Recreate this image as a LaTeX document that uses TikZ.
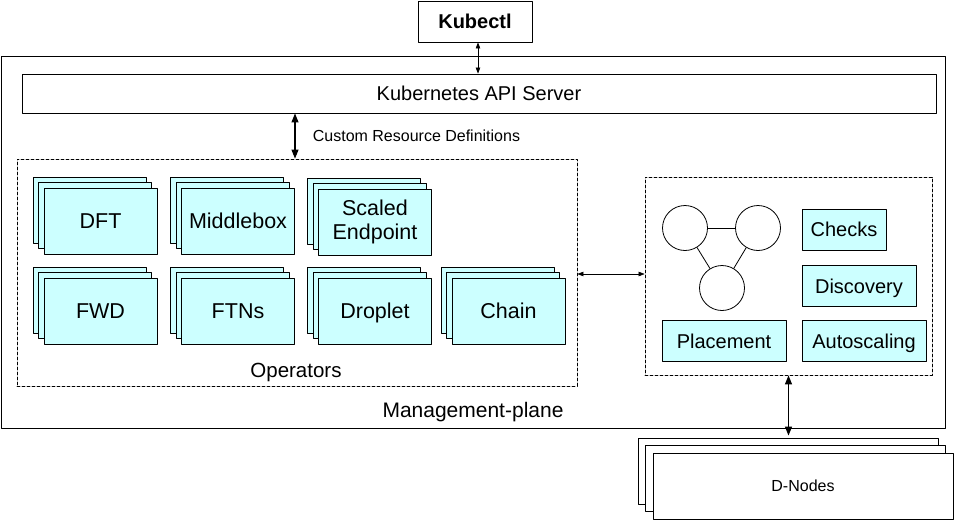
\documentclass[tikz,border=0pt]{standalone}
\usepackage{fontspec}
\setmainfont{Liberation Sans}
\usetikzlibrary{arrows.meta}
\usetikzlibrary{shadows}
\definecolor{opcyan}{RGB}{204,255,255}
\newcommand{\labfont}{\fontsize{20}{23}\selectfont}
\newcommand{\boxfont}{\fontsize{21.5}{23}\selectfont}

\tikzset{
  opstack/.style={draw, fill=opcyan, line width=0.9pt, minimum width=113pt, minimum height=66pt,
    inner sep=0pt, align=center, font=\boxfont,
    double copy shadow={shadow xshift=-5.5pt, shadow yshift=5.5pt, fill=opcyan, draw=black, line width=0.9pt}},
  opbox/.style={opstack, text height=15.4pt, text depth=0pt},
  ctlbox/.style={draw, fill=opcyan, line width=0.9pt, minimum height=41pt, inner sep=0pt,
    font=\labfont, text height=14.3pt, text depth=0pt},
  dashbox/.style={draw, line width=0.8pt, dash pattern=on 3pt off 2pt, inner sep=0pt},
  plainbox/.style={draw, line width=0.9pt, inner sep=0pt},
  member/.style={draw, circle, line width=0.8pt, minimum size=45pt, inner sep=0pt},
  smallarrow/.style={line width=0.6pt, {Triangle[length=6pt,width=4.5pt]}-{Triangle[length=6pt,width=4.5pt]}},
  bigarrow/.style={line width=1.1pt, {Triangle[length=9pt,width=7pt]}-{Triangle[length=9pt,width=7pt]}}
}

\begin{document}
\begin{tikzpicture}[line cap=round,line join=round,x=1pt,y=-1pt]
	\useasboundingbox (0,0) rectangle (954,520);

	%management-plane
	\node[plainbox, minimum width=944pt, minimum height=372pt] (mp) at (473,242) {};
	\node[font=\fontsize{21}{24}\selectfont] (mplab) at (473,412) {Management-plane};

	%kubectl ja api server
	\node[plainbox, minimum width=114pt, minimum height=41pt, font=\bfseries\labfont] (kub) at (475,21.5) {Kubectl};
	\node[plainbox, minimum width=914pt, minimum height=39pt, font=\labfont] (api) at (479,93.5) {Kubernetes API Server};

	%operators
	\node[dashbox, minimum width=560pt, minimum height=227pt] (ops) at (297,272.5) {};
	\node[font=\fontsize{20.5}{23}\selectfont] (opslab) at (296,372) {Operators};

	\node[opbox] (dft) at (100.5,221) {DFT};
	\node[opbox] (mbox) at (238,221) {Middlebox};
	\node[opstack] (scaled) at (375,222) {Scaled\\[1.5pt]Endpoint};
	\node[opbox] (fwd) at (100.5,311) {FWD};
	\node[opbox] (ftns) at (238,311) {FTNs};
	\node[opbox] (droplet) at (375,311) {Droplet};
	\node[opbox] (chain) at (508.5,311) {Chain};

	%ohjaus
	\node[dashbox, minimum width=287pt, minimum height=198pt] (ctl) at (788.5,276) {};

	\node[member] (m1) at (685,228) {};
	\node[member] (m2) at (758,228) {};
	\node[member] (m3) at (722,288) {};
	\draw[line width=0.8pt] (m1) -- (m2);
	\draw[line width=0.8pt] (m1) -- (m3);
	\draw[line width=0.8pt] (m2) -- (m3);

	\node[ctlbox, minimum width=84pt] (checks) at (844,229.5) {Checks};
	\node[ctlbox, minimum width=114pt] (disc) at (859,286) {Discovery};
	\node[ctlbox, minimum width=124pt] (place) at (724,341) {Placement};
	\node[ctlbox, minimum width=124pt] (autosc) at (864,341) {Autoscaling};

	%d-nodes
	\node[plainbox, fill=white, minimum width=300pt, minimum height=66pt, font=\fontsize{16}{19}\selectfont,
		double copy shadow={shadow xshift=-7.5pt, shadow yshift=7.5pt, fill=white, draw=black, line width=0.9pt}] (dn) at (803,486) {D-Nodes};

	%nuolet
	\coordinate (crdx) at (295,0);
	\coordinate (midy) at (0,274);
	\draw[smallarrow] (kub.south -| 478,0) -- (api.north -| 478,0);
	\draw[bigarrow] (api.south -| crdx) -- (ops.north -| crdx)
		node[midway, right=14pt, font=\fontsize{16}{19}\selectfont] (crdlab) {Custom Resource Definitions};
	\draw[smallarrow] (ops.east |- midy) -- (ctl.west |- midy);
	\draw[bigarrow] (ctl.south) -- ([yshift=17pt]dn.north -| ctl.south);

\end{tikzpicture}
\end{document}
